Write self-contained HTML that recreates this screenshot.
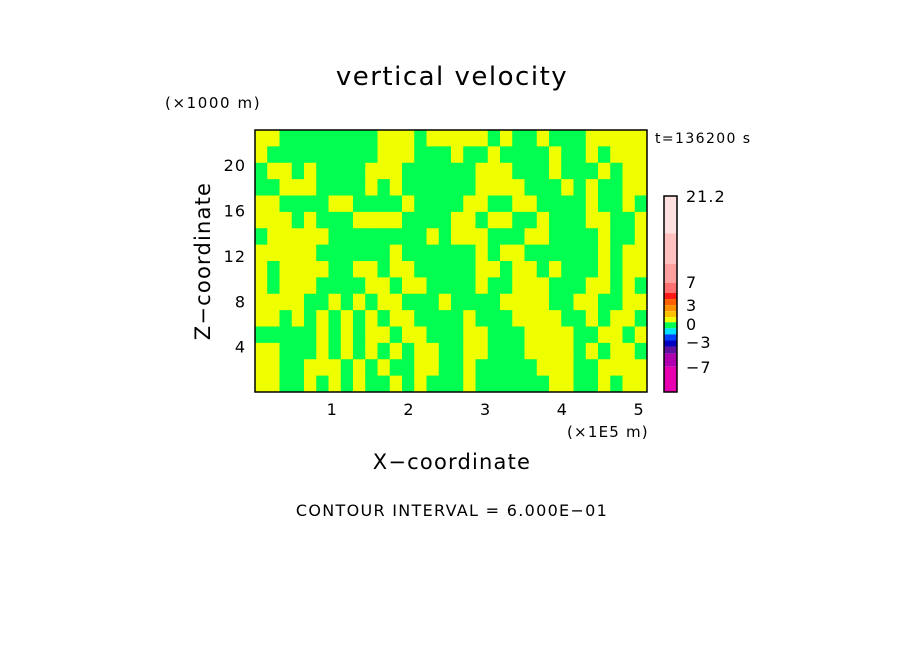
<!DOCTYPE html>
<html><head><meta charset="utf-8"><style>
body{margin:0;background:#fff;width:904px;height:654px;overflow:hidden}
svg text{font-family:"DejaVu Sans","Liberation Sans",sans-serif;fill:#000}
</style></head><body>
<svg id="s" width="904" height="654">
<g id="field"></g>
<rect x="255" y="130" width="392" height="262" fill="none" stroke="#000" stroke-width="1.5"/>
<text x="452" y="85" font-size="26" letter-spacing="1.5" text-anchor="middle">vertical velocity</text>
<text x="165" y="108" font-size="15" letter-spacing="1.6">(×1000 m)</text>
<text x="655" y="143" font-size="14" letter-spacing="1.4">t=136200 s</text>
<text x="567" y="437" font-size="15" letter-spacing="1.2">(×1E5 m)</text>
<text x="452" y="469" font-size="21" letter-spacing="1.2" text-anchor="middle">X−coordinate</text>
<text x="210" y="261" font-size="21" letter-spacing="1.2" text-anchor="middle" transform="rotate(-90 210 261)">Z−coordinate</text>
<text x="452" y="516" font-size="16" letter-spacing="1.3" text-anchor="middle">CONTOUR INTERVAL = 6.000E−01</text>
<g id="xt"></g><g id="yt"></g><g id="cb"></g>
</svg>
<script>
const rows=[
"00111111110001000001011011100000",
"01111111110001110110111101101000",
"10010111100011111100011101110100",
"11000111101011111100001110101100",
"00111100111101111001100111101101",
"00010111000011110010011011100110",
"10000011111111010001110011110110",
"00000111111011111101001111110100",
"01000011001001111100100101110100",
"01000111100100111101100011100101",
"00001101010011101111000011001100",
"00101010101001111011100001101001",
"11111010100100111001110000110010",
"00111010101010011001110000101001",
"00110001010110011011111000110000",
"00110101011010111011111100110100"];
const xTicks=[1,2,3,4,5];
const yTicks=[4,8,12,16,20];
const cbColors=["#ffe0e0","#ffc0c0","#ffa0a0","#ff7070","#ff1818","#ff6000","#ff9000","#ffc000","#f0ff00","#00ff50","#00e0ff","#0040ff","#0000c0","#6010a0","#b000b0","#e800b0"];
const cbLabels=[21.2,7,3,0,-3,-7];
const ns="http://www.w3.org/2000/svg";
const X0=255,X1=647,Y0=392,Y1=130,XMAX=5.11,ZMAX=23.1;
const sx=v=>X0+(X1-X0)*v/XMAX, sy=v=>Y0-(Y0-Y1)*v/ZMAX;
function mk(t,a,p){const e=document.createElementNS(ns,t);for(const k in a)e.setAttribute(k,a[k]);p.appendChild(e);return e;}
const f=document.getElementById('field');
const nc=rows[0].length,nr=rows.length,cw=(X1-X0)/nc,rh=(Y0-Y1)/nr;
rows.forEach((r,i)=>{for(let j=0;j<nc;j++){
 const e=mk('rect',{x:X0+j*cw,y:Y1+i*rh,width:cw+0.5,height:rh+0.5,fill:r[j]==='1'?'#00ff50':'#f0ff00'},f);
 
 
}});
const xt=document.getElementById('xt');
xTicks.forEach(v=>{const e=mk('text',{x:sx(v),y:415,'font-size':16,'text-anchor':'middle'},xt);e.textContent=v;
 
 });
const yt=document.getElementById('yt');
yTicks.forEach(v=>{const e=mk('text',{x:246,y:sy(v)+6,'font-size':16,'letter-spacing':1,'text-anchor':'end'},yt);e.textContent=v;
 
 });
const cb=document.getElementById('cb');
const CB0=196,CB1=392;
const segPx=[37,30,19,10,6,6,6,6,5,6,6,6,6,7,13,25];
let y=CB0;
cbColors.forEach((c,i)=>{const h=segPx[i]*(CB1-CB0)/ segPx.reduce((a,b)=>a+b);
 const e=mk('rect',{x:664,y:y,width:13,height:h,fill:c},cb);
 
 
 y+=h;});
mk('rect',{x:664,y:CB0,width:13,height:CB1-CB0,fill:'none',stroke:'#000','stroke-width':1.5},cb);
const lpy=[202,288,311,330,348,373];
cbLabels.forEach((v,i)=>{const e=mk('text',{x:686,y:lpy[i],'font-size':16,'letter-spacing':1},cb);e.textContent=String(v).replace('-','−');
 
 });
</script>
</body></html>
